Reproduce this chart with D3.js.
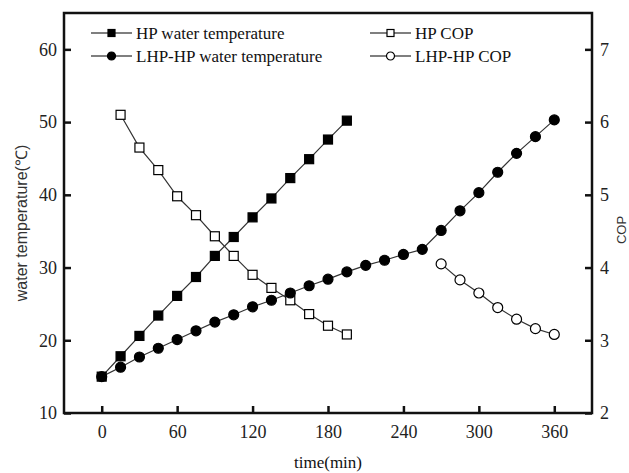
<!DOCTYPE html>
<meta charset="utf-8">
<style>
body { margin: 0; background: #fff; }
svg { display: block; }
.tick text { font-family: "Liberation Serif", "Times New Roman", serif; font-size: 18px; fill: #222; }
.domain { display: none; }
.tick line { stroke: #111; stroke-width: 2.5px; }
.series path { fill: none; stroke: #333; stroke-width: 1.2px; }
.legend text { font-family: "Liberation Serif", "Times New Roman", serif; font-size: 17px; fill: #111; }
</style>
<svg width="629" height="473"></svg>
<script src="https://d3js.org/d3.v7.min.js"></script>
<script>

// time in minutes
var hpTime = [0, 15, 30, 45, 60, 75, 90, 105, 120, 135, 150, 165, 180, 195];
var hpTemp = [15.0, 17.8, 20.6, 23.4, 26.1, 28.7, 31.6, 34.2, 36.9, 39.5, 42.3, 44.9, 47.6, 50.2];

var hpCopTime = [15, 30, 45, 60, 75, 90, 105, 120, 135, 150, 165, 180, 195];
var hpCop = [6.10, 5.65, 5.34, 4.98, 4.72, 4.43, 4.16, 3.90, 3.72, 3.55, 3.36, 3.20, 3.08];

var lhpTime = [0, 15, 30, 45, 60, 75, 90, 105, 120, 135, 150, 165, 180, 195, 210, 225, 240, 255, 270, 285, 300, 315, 330, 345, 360];
var lhpTemp = [15.0, 16.3, 17.7, 18.9, 20.1, 21.3, 22.5, 23.5, 24.6, 25.5, 26.5, 27.5, 28.4, 29.4, 30.3, 31.0, 31.8, 32.5, 35.1, 37.8, 40.3, 43.1, 45.7, 48.0, 50.3];

var lhpCopTime = [270, 285, 300, 315, 330, 345, 360];
var lhpCop = [4.05, 3.83, 3.65, 3.45, 3.29, 3.16, 3.08];

var xTicks = [0, 60, 120, 180, 240, 300, 360];
var tempTicks = [10, 20, 30, 40, 50, 60];
var copTicks = [2, 3, 4, 5, 6, 7];

var svg = d3.select("svg"),
    margin = {left: 64, top: 13, right: 37, bottom: 60},
    width = +svg.attr("width") - margin.left - margin.right,
    height = +svg.attr("height") - margin.top - margin.bottom;

var g = svg.append("g").attr("transform", "translate(" + margin.left + "," + margin.top + ")");

var x = d3.scaleLinear().domain([-30, 390]).range([0, width]);
var yT = d3.scaleLinear().domain([10, 65]).range([height, 0]);
var yC = d3.scaleLinear().domain([2, 7.5]).range([height, 0]);

// axes, ticks pointing inward
g.append("g")
    .attr("transform", "translate(0," + height + ")")
    .call(d3.axisBottom(x).tickValues(xTicks).tickSizeInner(-7).tickSizeOuter(0).tickPadding(12));

g.append("g")
    .call(d3.axisLeft(yT).tickValues(tempTicks).tickSizeInner(-7).tickSizeOuter(0).tickPadding(7));

g.append("g")
    .attr("transform", "translate(" + width + ",0)")
    .call(d3.axisRight(yC).tickValues(copTicks).tickFormat(d3.format("d")).tickSizeInner(-7).tickSizeOuter(0).tickPadding(8));

g.append("rect")
    .attr("width", width)
    .attr("height", height)
    .attr("fill", "none")
    .attr("stroke", "#111")
    .attr("stroke-width", 2.5);

// axis titles
svg.append("text")
    .attr("transform", "translate(27,223) rotate(-90)")
    .attr("text-anchor", "middle")
    .style("font-family", "'Liberation Sans', sans-serif")
    .style("font-size", "16px")
    .style("fill", "#333")
    .text("water temperature(℃)");

svg.append("text")
    .attr("transform", "translate(626,230) rotate(-90)")
    .attr("text-anchor", "middle")
    .style("font-family", "'Liberation Sans', sans-serif")
    .style("font-size", "13px")
    .style("fill", "#333")
    .text("COP");

svg.append("text")
    .attr("x", margin.left + width / 2)
    .attr("y", 468)
    .attr("text-anchor", "middle")
    .style("font-family", "'Liberation Serif', 'Times New Roman', serif")
    .style("font-size", "17px")
    .style("fill", "#111")
    .text("time(min)");

function zip(a, b) { return a.map(function(v, i) { return [v, b[i]]; }); }

var series = [
  {name: "HP water temperature", data: zip(hpTime, hpTemp), y: yT, shape: "square", fill: "#000"},
  {name: "HP COP", data: zip(hpCopTime, hpCop), y: yC, shape: "square", fill: "#fff"},
  {name: "LHP-HP water temperature", data: zip(lhpTime, lhpTemp), y: yT, shape: "circle", fill: "#000"},
  {name: "LHP-HP COP", data: zip(lhpCopTime, lhpCop), y: yC, shape: "circle", fill: "#fff"}
];

function marker(sel, s, size) {
  if (s.shape == "square") {
    sel.append("rect")
      .attr("x", -size / 2).attr("y", -size / 2)
      .attr("width", size).attr("height", size)
      .attr("fill", s.fill).attr("stroke", "#000").attr("stroke-width", 1.2);
  } else {
    sel.append("circle")
      .attr("r", size / 2 + 0.5)
      .attr("fill", s.fill).attr("stroke", "#000").attr("stroke-width", 1.2);
  }
}

series.forEach(function(s) {
  var sg = g.append("g").attr("class", "series");
  var line = d3.line()
      .x(function(d) { return x(d[0]); })
      .y(function(d) { return s.y(d[1]); });
  sg.append("path").attr("d", line(s.data));
  sg.selectAll("g")
    .data(s.data)
    .enter().append("g")
      .attr("transform", function(d) { return "translate(" + x(d[0]) + "," + s.y(d[1]) + ")"; })
      .each(function() { marker(d3.select(this), s, 9); });
});

// legend
var legendPos = [[91, 33], [370, 33], [91, 56], [370, 56]];
var legend = svg.append("g").attr("class", "legend");
series.forEach(function(s, i) {
  var lg = legend.append("g").attr("transform", "translate(" + legendPos[i][0] + "," + legendPos[i][1] + ")");
  lg.append("line").attr("x1", 0).attr("x2", 41).attr("stroke", "#000").attr("stroke-width", 1.2);
  var m = lg.append("g").attr("transform", "translate(20.5,0)");
  marker(m, s, 7);
  lg.append("text").attr("x", 45).attr("dy", "0.35em").text(s.name);
});

</script>
